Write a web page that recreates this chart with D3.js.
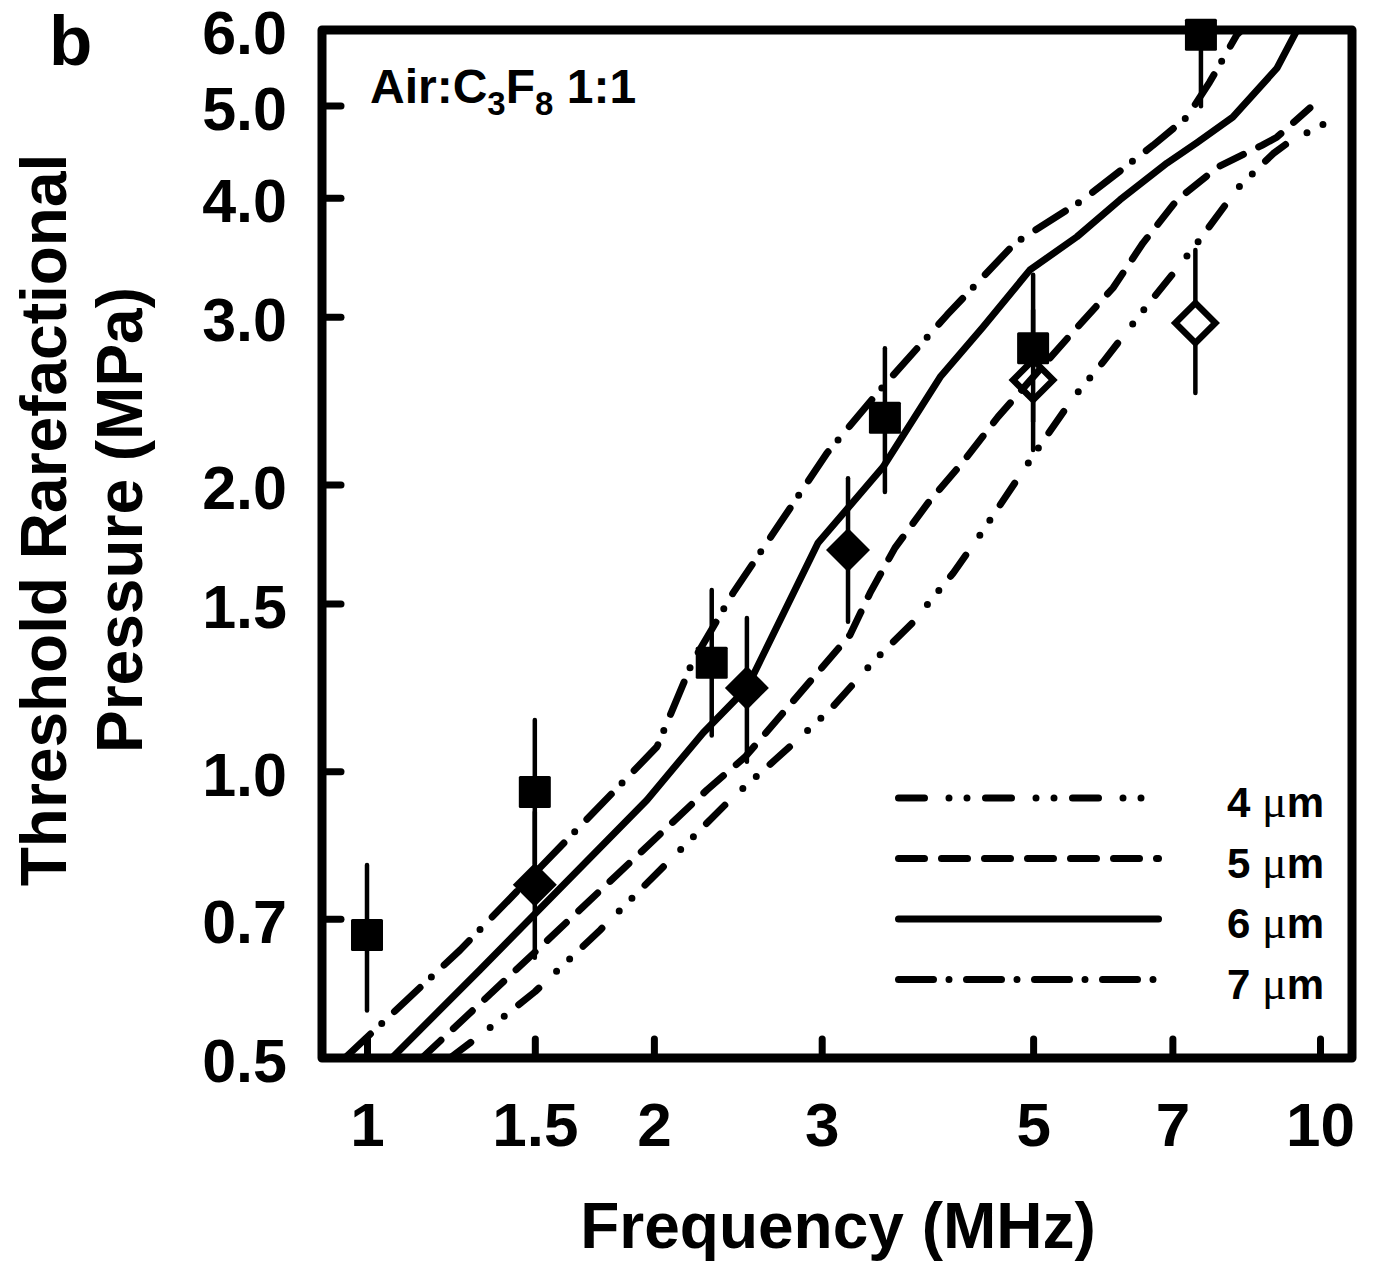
<!DOCTYPE html>
<html><head><meta charset="utf-8">
<script src="https://cdn.jsdelivr.net/npm/d3@7"></script>
<style>body{margin:0;background:#fff}svg{display:block}</style>
</head><body>
<svg id="chart" width="1373" height="1282"></svg>
<script>
// ---------- data ----------
const xTicks = [1, 1.5, 2, 3, 5, 7, 10];
const xTickLabels = ["1", "1.5", "2", "3", "5", "7", "10"];
const yTicks = [0.5, 0.7, 1.0, 1.5, 2.0, 3.0, 4.0, 5.0, 6.0];
const yTickLabels = ["0.5", "0.7", "1.0", "1.5", "2.0", "3.0", "4.0", "5.0", "6.0"];

const seriesNames = ["4 μm", "5 μm", "6 μm", "7 μm"];

const freq4 = [1.222,1.314,1.501,1.756,2.404,2.792,3.061,3.412,3.732,4.121,4.397,5.047,5.506,5.92,6.505,6.99,7.447,8.2,8.93,9.26,10.37];
const p4    = [0.5,0.528,0.587,0.681,0.933,1.066,1.16,1.309,1.43,1.614,1.77,2.174,2.465,2.689,3.035,3.318,3.595,4.095,4.45,4.57,4.85];

const freq5 = [1.142,1.501,2.274,2.493,2.938,3.212,3.372,3.581,3.879,4.221,4.593,5.506,6.064,6.52,7.08,7.82,8.69,9.01,9.76];
const p5    = [0.5,0.646,0.956,1.035,1.253,1.39,1.539,1.716,1.913,2.112,2.355,2.892,3.216,3.585,3.98,4.31,4.54,4.63,4.97];

const freq6 = [1.062,1.314,1.967,2.252,2.504,2.973,3.479,3.994,4.43,4.962,5.559,6.168,6.91,7.43,8.10,9.01,9.46];
const p6    = [0.5,0.619,0.933,1.097,1.223,1.736,2.086,2.593,2.926,3.36,3.64,3.98,4.35,4.57,4.86,5.47,6.0];

const freq7 = [0.948,1.252,1.843,2.015,2.193,2.421,2.713,3.039,3.453,4.061,4.786,5.64,6.68,7.25,7.66,8.18,8.28];
const p7    = [0.5,0.649,0.967,1.061,1.299,1.538,1.822,2.158,2.513,3.013,3.585,3.98,4.54,4.86,5.29,5.93,6.0];

// measured points (filled squares, filled diamonds, open diamonds)
const sqF  = [1, 1.5, 2.30, 3.495, 5, 7.5];
const sqP  = [0.673, 0.951, 1.30, 2.35, 2.78, 5.93];
const sqLo = [0.561, 0.799, 1.09, 1.964, 2.33, 4.99];
const sqHi = [0.797, 1.132, 1.55, 2.78, 3.32, 7.05];

const fdF  = [1.5, 2.504, 3.197];
const fdP  = [0.76, 1.223, 1.707];
const fdLo = [0.637, 1.023, 1.435];
const fdHi = [0.906, 1.448, 2.03];

const odF  = [5, 7.4];
const odP  = [2.575, 2.955];
const odLo = [2.174, 2.495];
const odHi = [3.05, 3.525];

// ---------- setup ----------
const FONT = "'Liberation Sans', Arial, Helvetica, sans-serif";
const svg = d3.select("#chart");
const frame = {left: 322, right: 1352, top: 30, bottom: 1058};
const x = d3.scaleLog().domain([1, 10]).range([367, 1320]);
const y = d3.scaleLog().domain([0.5, 6]).range([1058, 30]);

const dashes = ["26,24.5,0,18,0,18.5", "26,17", null, "35,15.5,0,17.5"];
const LW = 7;

svg.append("defs").append("clipPath").attr("id", "plotClip")
  .append("rect").attr("x", frame.left).attr("y", frame.top)
  .attr("width", frame.right - frame.left).attr("height", frame.bottom - frame.top);

// ---------- axes ----------
const xAxis = d3.axisBottom(x).tickValues(xTicks)
  .tickFormat((d, i) => xTickLabels[i]).tickSize(-19).tickPadding(44);
svg.append("g").attr("transform", `translate(0,${frame.bottom})`).call(xAxis)
  .call(g => g.select(".domain").remove())
  .call(g => g.selectAll(".tick line").attr("stroke", "#000").attr("stroke-width", LW).attr("stroke-linecap", "round"))
  .call(g => g.selectAll(".tick text").attr("font-size", 62).attr("font-weight", "bold")
    .attr("font-family", FONT).attr("fill", "#000"));

const yAxis = d3.axisLeft(y).tickValues(yTicks)
  .tickFormat((d, i) => yTickLabels[i]).tickSize(-19).tickPadding(35);
svg.append("g").attr("transform", `translate(${frame.left},0)`).call(yAxis)
  .call(g => g.select(".domain").remove())
  .call(g => g.selectAll(".tick line").attr("stroke", "#000").attr("stroke-width", LW).attr("stroke-linecap", "round"))
  .call(g => g.selectAll(".tick text").attr("font-size", 61).attr("font-weight", "bold")
    .attr("font-family", FONT).attr("fill", "#000").attr("dy", "0.39em"));

// frame
svg.append("rect").attr("x", frame.left).attr("y", frame.top)
  .attr("width", frame.right - frame.left).attr("height", frame.bottom - frame.top)
  .attr("fill", "none").attr("stroke", "#000").attr("stroke-width", 9).attr("stroke-linejoin", "round");

// ---------- curves ----------
const curves = [
  d3.zip(freq4, p4), d3.zip(freq5, p5), d3.zip(freq6, p6), d3.zip(freq7, p7)
];
const line = d3.line().x(d => x(d[0])).y(d => y(d[1]));
const cg = svg.append("g").attr("clip-path", "url(#plotClip)");
curves.forEach((c, i) => {
  cg.append("path").attr("d", line(c)).attr("fill", "none").attr("stroke", "#000")
    .attr("stroke-width", LW).attr("stroke-linecap", "round").attr("stroke-linejoin", "round")
    .attr("stroke-dasharray", dashes[i]);
});

// ---------- error bars & markers ----------
const eg = svg.append("g").attr("clip-path", "url(#plotClip)");
function errBars(F, P, Lo, Hi, half) {
  F.forEach((f, i) => {
    const cx = x(f), cy = y(P[i]);
    eg.append("line").attr("x1", cx).attr("x2", cx).attr("y1", cy - half).attr("y2", y(Hi[i]))
      .attr("stroke", "#000").attr("stroke-width", 4.5).attr("stroke-linecap", "round");
    eg.append("line").attr("x1", cx).attr("x2", cx).attr("y1", cy + half).attr("y2", y(Lo[i]))
      .attr("stroke", "#000").attr("stroke-width", 4.5).attr("stroke-linecap", "round");
  });
}
errBars(odF, odP, odLo, odHi, 20);
errBars(sqF, sqP, sqLo, sqHi, 0);
errBars(fdF, fdP, fdLo, fdHi, 0);

const mg = svg.append("g");
odF.forEach((f, i) => {
  const cx = x(f), cy = y(odP[i]), r = 20;
  mg.append("path").attr("d", `M${cx},${cy - r}L${cx + r},${cy}L${cx},${cy + r}L${cx - r},${cy}Z`)
    .attr("fill", "none").attr("stroke", "#000").attr("stroke-width", 6.5).attr("stroke-linejoin", "miter");
});
sqF.forEach((f, i) => {
  const cx = x(f), cy = y(sqP[i]), s = 32;
  mg.append("rect").attr("x", cx - s / 2).attr("y", cy - s / 2).attr("width", s).attr("height", s)
    .attr("rx", 1.5).attr("fill", "#000");
});
fdF.forEach((f, i) => {
  const cx = x(f), cy = y(fdP[i]), r = 22;
  mg.append("path").attr("d", `M${cx},${cy - r}L${cx + r},${cy}L${cx},${cy + r}L${cx - r},${cy}Z`)
    .attr("fill", "#000");
});

// ---------- legend ----------
const lg = svg.append("g");
seriesNames.forEach((name, i) => {
  const ly = 798 + i * 60.5;
  lg.append("line").attr("x1", 898.5).attr("x2", 1158.5).attr("y1", ly).attr("y2", ly)
    .attr("stroke", "#000").attr("stroke-width", LW).attr("stroke-linecap", "round")
    .attr("stroke-dasharray", dashes[i]);
  const parts = name.split(" ");
  const t = lg.append("text").attr("x", 1324).attr("y", ly + 19).attr("text-anchor", "end")
    .attr("font-size", 42).attr("font-family", FONT).attr("fill", "#000");
  t.append("tspan").attr("font-weight", "bold").text(parts[0] + " ");
  t.append("tspan").attr("font-family", "'Liberation Serif', 'DejaVu Serif', serif").attr("font-size", 46).text("μ");
  t.append("tspan").attr("font-weight", "bold").text("m");
});

// ---------- annotation ----------
const ann = svg.append("text").attr("x", 370).attr("y", 103).attr("font-size", 48)
  .attr("font-weight", "bold").attr("font-family", FONT).attr("fill", "#000");
ann.append("tspan").text("Air:C");
ann.append("tspan").attr("font-size", 33).attr("dy", 12).text("3");
ann.append("tspan").attr("dy", -12).text("F");
ann.append("tspan").attr("font-size", 33).attr("dy", 12).text("8");
ann.append("tspan").attr("dy", -12).text(" 1:1");

// ---------- titles ----------
svg.append("text").attr("x", 49).attr("y", 65).attr("font-size", 71).attr("font-weight", "bold")
  .attr("font-family", FONT).text("b");

svg.append("text").attr("x", 838).attr("y", 1248).attr("text-anchor", "middle")
  .attr("font-size", 64).attr("font-weight", "bold").attr("font-family", FONT).text("Frequency (MHz)");

svg.append("text").attr("transform", "translate(66,520) rotate(-90)").attr("text-anchor", "middle")
  .attr("font-size", 64).attr("font-weight", "bold").attr("font-family", FONT).text("Threshold Rarefactional");
svg.append("text").attr("transform", "translate(142,520) rotate(-90)").attr("text-anchor", "middle")
  .attr("font-size", 64).attr("font-weight", "bold").attr("font-family", FONT).text("Pressure (MPa)");
</script>
</body></html>
